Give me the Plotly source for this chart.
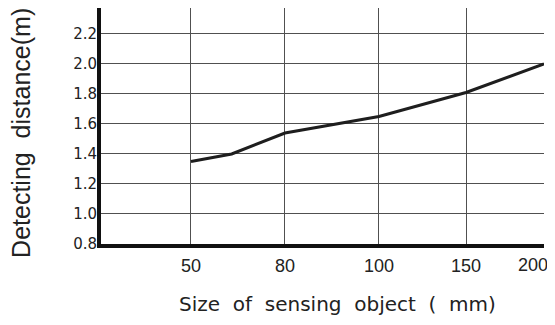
import numpy as np
import plotly.graph_objects as go

# Data
sizes_mm = [50, 63, 80, 100, 150, 200]
distance_m = [1.35, 1.40, 1.54, 1.65, 1.81, 2.00]

tick_sizes = [50, 80, 100, 150, 200]
tick_labels = ["50", "80", "100", "150", "200"]
y_ticks = [0.8, 1.0, 1.2, 1.4, 1.6, 1.8, 2.0, 2.2]

x_title = "Size\u00a0\u00a0of\u00a0\u00a0sensing\u00a0\u00a0object\u00a0\u00a0(\u00a0\u00a0mm)"
y_title = "Detecting\u00a0\u00a0distance(m)"

# The chart's x scale is non-uniform: each labelled size sits at a fixed axis
# coordinate; sizes in between are interpolated along that scale.
scale_coord = [1.0, 2.0, 3.0, 3.926, 4.755]

def x_scale(v):
    return np.interp(v, tick_sizes, scale_coord)

tick_pos = list(x_scale(tick_sizes))

fig = go.Figure()
fig.add_trace(go.Scatter(
    x=x_scale(sizes_mm), y=distance_m, mode="lines",
    line=dict(color="#1e1e1e", width=3),
    showlegend=False, hoverinfo="skip",
))

tick_font = dict(family="Liberation Sans, Arial, sans-serif", size=18, color="#222222")

# The last label sits at the right edge and is pulled inward (as in the original),
# so it is drawn as an annotation anchored to its tick.
annotations = [
    dict(text=tick_labels[-1], xref="x", yref="paper", x=tick_pos[-1], y=0,
         xanchor="right", yanchor="middle", xshift=6, yshift=-21,
         showarrow=False, font=tick_font),
    dict(text=y_title, textangle=-90, xref="paper", yref="paper",
         x=-0.181, y=0.47, xanchor="center", yanchor="middle", showarrow=False,
         font=dict(family="Liberation Sans, Arial, sans-serif", size=25, color="#222222")),
    dict(text=x_title, xref="paper", yref="paper",
         x=0.534, y=-0.254, xanchor="center", yanchor="middle", showarrow=False,
         font=dict(family="DejaVu Sans, sans-serif", size=20, color="#222222")),
]

# The page body has an 8px default margin, so the figure is sized/margined to compensate.
fig.update_layout(
    width=547, height=317,
    margin=dict(l=93, r=11, t=0, b=81, autoexpand=False),
    paper_bgcolor="white", plot_bgcolor="white",
    font=dict(family="Liberation Sans, Arial, sans-serif", color="#222222"),
    xaxis=dict(
        range=[0.043, 4.7555], automargin=False,
        tickmode="array", tickvals=tick_pos, ticktext=tick_labels[:-1] + [""],
        showgrid=True, gridcolor="#505050", gridwidth=1,
        showline=True, linecolor="#111111", linewidth=4,
        ticks="", zeroline=False,
        tickfont=tick_font,
        ticklabelstandoff=2,
    ),
    yaxis=dict(
        range=[0.8, 2.373], automargin=False,
        tickmode="array", tickvals=y_ticks, ticktext=[f"{v:.1f}" for v in y_ticks],
        showgrid=True, gridcolor="#505050", gridwidth=1,
        showline=True, linecolor="#111111", linewidth=4,
        ticks="", zeroline=False,
        tickfont=dict(family="DejaVu Sans, sans-serif", size=15, color="#222222"),
        ticklabelstandoff=-3,
    ),
    annotations=annotations,
)

fig.write_html("out.html")
